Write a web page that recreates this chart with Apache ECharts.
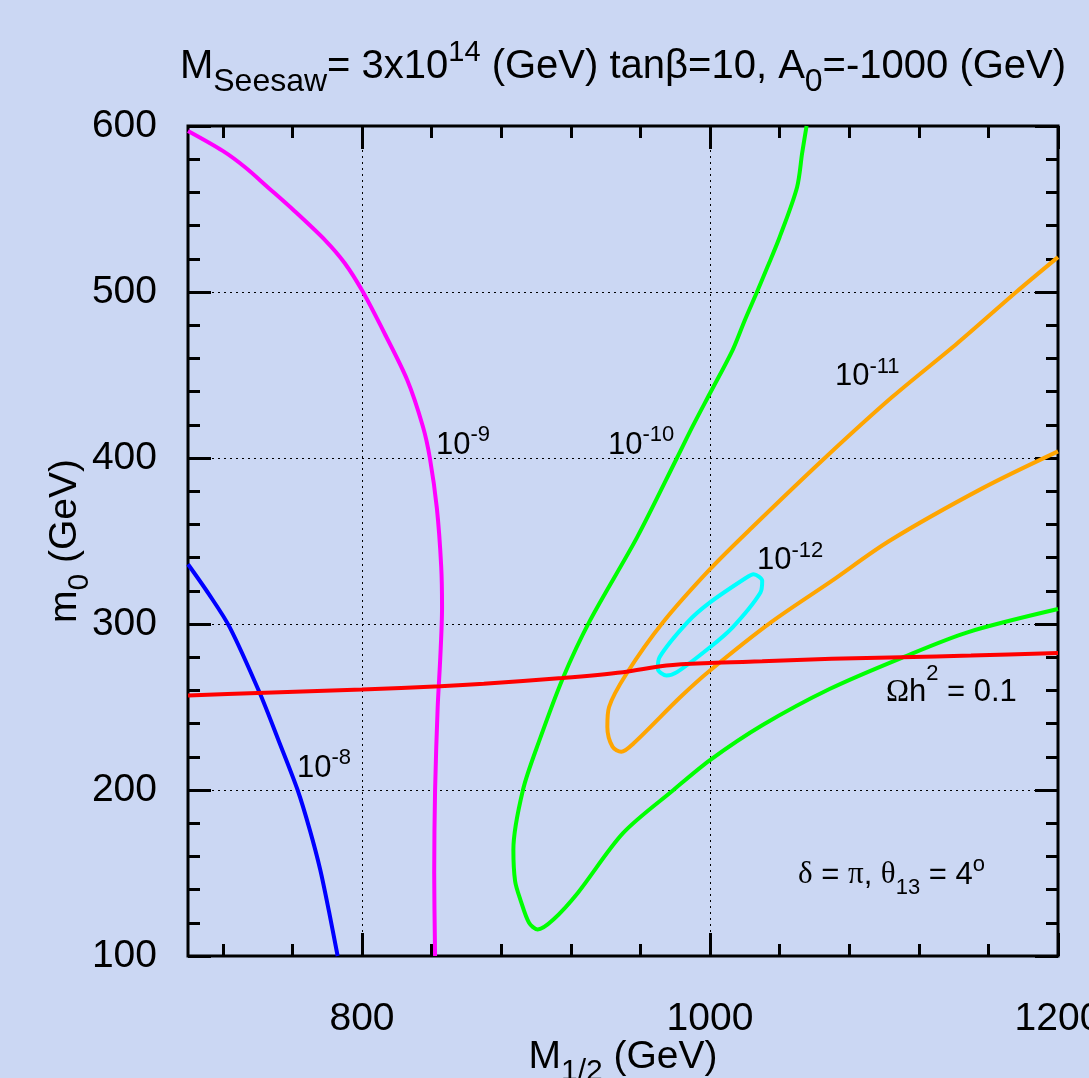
<!DOCTYPE html>
<html>
<head>
<meta charset="utf-8">
<script src="https://cdn.jsdelivr.net/npm/echarts@6/dist/echarts.min.js"></script>
<style>
  html, body { margin: 0; padding: 0; background: #cbd7f3; }
  #chart { width: 1089px; height: 1078px; }
</style>
</head>
<body>
<div id="chart"></div>
<script>
// axis ticks
var xLabels = [800, 1000, 1200];
var xMajor = [800, 1000, 1200];
var xMinor = [720, 760, 840, 880, 920, 960, 1040, 1080, 1120, 1160];

// contours [M1/2, m0]
var blue8 = [[700, 336], [712, 318], [724, 298], [741, 259], [752, 230], [763, 200],
    [770, 176], [776, 152], [781, 127], [786, 100]];
var magenta9 = [[700, 597], [720, 585], [733, 575], [746, 563], [761, 549], [779, 531],
    [790, 517.5], [800, 501], [813, 475], [826, 447], [835, 419], [839, 400], [843, 370],
    [845.5, 335], [846, 310], [845, 280], [843.5, 250], [842, 200], [841.5, 150], [842, 100]];
var green10 = [[1055.5, 600], [1053, 584], [1050, 563], [1040, 533], [1033, 515], [1027, 500],
    [1020, 483], [1013, 465], [1000, 439], [990, 419], [981, 400], [958, 352], [931, 302],
    [915.5, 267.5], [902, 230], [892.5, 200], [887, 164], [888, 145], [891, 134], [896, 120],
    [901, 116], [910, 122], [924, 138], [950, 174], [979, 200], [1000, 218], [1030, 239],
    [1069, 261], [1111, 280], [1148, 295], [1200, 309]];
var orange11 = [[1200, 521], [1176, 500], [1142, 469], [1105, 437], [1066, 400], [1024, 358],
    [1000, 333], [973, 301], [952, 270], [942, 250], [941, 238], [944, 226], [949, 223],
    [956, 228], [983, 256], [1000, 272], [1035, 301], [1070, 326], [1103, 350], [1157, 382],
    [1200, 404]];
var cyan12 = [[1021, 328], [1025, 330], [1030, 326], [1029, 319], [1013, 298], [1000, 286],
    [981, 271], [975, 269], [970, 273], [971, 280], [987, 301], [1000, 313], [1021, 328]];
var relic = [[700, 257], [740, 258.5], [800, 260.5], [845, 262.5], [870, 264], [915, 267.5],
    [950, 271], [975, 275], [1000, 276.5], [1030, 277.5], [1070, 279], [1110, 280],
    [1150, 281], [1200, 282.5]];

// annotations
var noteText = ['{b|10}{p|-8}', '{b|10}{p|-9}', '{b|10}{p|-10}', '{b|10}{p|-11}', '{b|10}{p|-12}',
    '{g|Ω}{b|h}{q|2}{b| = 0.1}', '{g|δ}{b| = }{g|π}{b|, }{g|θ}{s|13}{b| = 4}{p|o}'];
var noteX = [762.6, 842.5, 941.4, 1071.8, 1027, 1101.1, 1050.6];
var noteY = [213.1, 407.6, 407.8, 448.9, 338, 258.5, 148.7];

var sans = 'Liberation Sans';
var serif = 'Liberation Serif';

// h = token box height used for top/bottom placement inside the line
function tok(size, h, va, fam) {
    return {fontSize: size, height: h, verticalAlign: va, fontFamily: fam || sans,
        fontWeight: 'normal', color: '#000'};
}

var titleRich = {b: tok(40, 52, 'top'), p: tok(29, 25.2, 'top'), s: tok(32, 20.8, 'bottom')};
var nameRich = {b: tok(39, 50, 'top'), s: tok(30, 20, 'bottom')};
var noteRich = {
    b: tok(31, 64, 'top'), g: tok(31, 64, 'top', serif),
    p: tok(22, 43.8, 'top'), q: tok(22, 25.8, 'top'), s: tok(22, 38.2, 'bottom')
};

var tickStyle = {color: '#000', width: 3};
var gridLine = {show: true, lineStyle: {color: '#000', width: 1, type: [2, 4]}};

function xAx(pos, ticks, len, withLabel) {
    return {
        type: 'value', position: pos, min: 700, max: 1200,
        axisLine: {show: false},
        axisTick: {show: true, inside: true, length: len, customValues: ticks, lineStyle: tickStyle},
        axisLabel: withLabel ? {
            customValues: xLabels, fontSize: 39, fontFamily: sans, color: '#000', margin: 44,
            formatter: function (v) { return String(v); }
        } : {show: false},
        splitLine: withLabel ? gridLine : {show: false}
    };
}

function yAx(pos, withLabel) {
    return {
        type: 'value', position: pos, min: 100, max: 600, interval: 100,
        axisLine: {show: false},
        axisTick: {show: true, inside: true, length: 23, lineStyle: tickStyle},
        minorTick: {show: true, splitNumber: 5, length: 12, lineStyle: tickStyle},
        axisLabel: withLabel ? {fontSize: 39, fontFamily: sans, color: '#000', margin: 31} : {show: false},
        splitLine: withLabel ? gridLine : {show: false}
    };
}

function curve(color, pts) {
    return {
        type: 'line', data: pts, showSymbol: false, smooth: 0.3, silent: true,
        lineStyle: {color: color, width: 4}, itemStyle: {color: color}
    };
}

var xBottom = xAx('bottom', xMajor, 23, true);
xBottom.name = '{b|M}{s|1/2}{b| (GeV)}';
xBottom.nameLocation = 'middle';
xBottom.nameGap = 76;
xBottom.nameMoveOverlap = false;
xBottom.nameTextStyle = {rich: nameRich};

var yLeft = yAx('left', true);
yLeft.name = '{b|m}{s|0}{b| (GeV)}';
yLeft.nameLocation = 'middle';
yLeft.nameGap = 98;
yLeft.nameMoveOverlap = false;
yLeft.nameTextStyle = {rich: nameRich};

var chart = echarts.init(document.getElementById('chart'));
var option = {
    backgroundColor: '#cbd7f3',
    animation: false,
    title: {
        text: '{b|M}{s|Seesaw}{b|= 3x10}{p|14}{b| (GeV) tanβ=10, A}{s|0}{b|=-1000 (GeV)}',
        left: 623, top: 40.8, padding: 0, textAlign: 'center',
        textStyle: {fontWeight: 'normal', rich: titleRich}
    },
    grid: {
        left: 188, right: 31, top: 126, bottom: 122,
        containLabel: false, outerBoundsMode: 'none',
        show: true, borderColor: '#000', borderWidth: 3, backgroundColor: 'transparent'
    },
    xAxis: [xBottom, xAx('bottom', xMinor, 12, false), xAx('top', xMajor, 23, false), xAx('top', xMinor, 12, false)],
    yAxis: [yLeft, yAx('right', false)],
    series: [
        curve('#0000ff', blue8),
        curve('#ff00ff', magenta9),
        curve('#00ff00', green10),
        curve('#ffa500', orange11),
        curve('#00ffff', cyan12),
        curve('#ff0000', relic),
        {
            type: 'scatter', symbolSize: 0, silent: true, z: 10,
            itemStyle: {opacity: 1},
            data: noteX.map(function (x, i) { return [x, noteY[i]]; }),
            label: {
                show: true, position: 'right', distance: 0, color: '#000', opacity: 1,
                formatter: function (p) { return noteText[p.dataIndex]; },
                rich: noteRich
            }
        }
    ]
};
chart.setOption(option);
</script>
</body>
</html>
